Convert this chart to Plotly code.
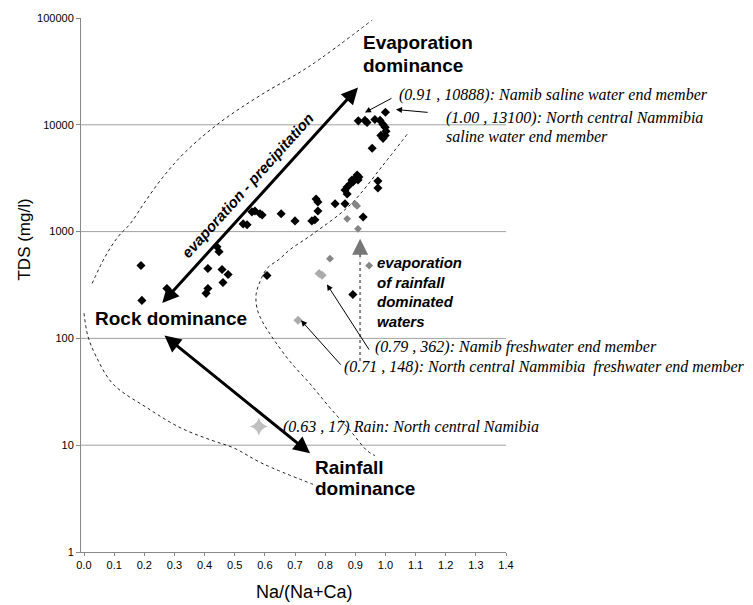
import math
import plotly.graph_objects as go

# ---------------- data ----------------
black_na = [0.91, 0.932, 0.939, 1.00, 0.965, 0.982, 0.992, 0.999, 1.002, 0.999, 0.992, 0.985,
            0.956, 0.906, 0.912, 0.899, 0.892, 0.883, 0.873, 0.866, 0.873, 0.889, 0.909, 0.975,
            0.975, 0.770, 0.776, 0.833, 0.866, 0.776, 0.756, 0.766, 0.926, 0.654, 0.700, 0.557,
            0.567, 0.584, 0.591, 0.528, 0.541, 0.441, 0.448, 0.189, 0.192, 0.275, 0.411, 0.458,
            0.478, 0.461, 0.411, 0.405, 0.607, 0.892]
black_tds = [10888, 11000, 10520, 13100, 11220, 11000, 10090, 9460, 8690, 7960, 7470, 7960,
             6030, 3380, 3240, 3100, 2910, 2790, 2610, 2450, 2250, 3040, 3040, 2970,
             2560, 2020, 1890, 1820, 1820, 1560, 1260, 1290, 1370, 1470, 1260, 1530,
             1560, 1470, 1430, 1180, 1160, 722, 649, 481, 227, 293, 451, 441,
             396, 334, 293, 264, 388, 258]

grey_na = [0.899, 0.906, 0.873, 0.909, 0.816, 0.946]
grey_tds = [1820, 1740, 1316, 1062, 558, 481]

fresh_na = [0.78, 0.79, 0.71]
fresh_tds = [405, 390, 148]

rain_na = [0.58]
rain_tds = [15]

# Gibbs envelope curves
upper_na = [0.027, 0.070, 0.113, 0.153, 0.202, 0.262, 0.335, 0.451, 0.584, 0.750, 0.956]
upper_tds = [327, 582, 895, 1182, 1893, 3240, 5530, 10520, 18790, 35700, 95700]

inner_na = [1.072, 0.992, 0.883, 0.760, 0.683, 0.650, 0.607, 0.584, 0.571, 0.574, 0.591,
            0.627, 0.683, 0.750, 0.816, 0.883, 0.939, 0.965]
inner_tds = [8140, 4190, 1780, 954, 677, 558, 451, 341, 258, 191, 145,
             100, 61, 37.5, 22.4, 13.7, 8.9, 8.0]

lower_na = [0.0, 0.013, 0.040, 0.096, 0.209, 0.319, 0.428, 0.494, 0.594, 0.760]
lower_tds = [172, 105, 68, 37.5, 22.4, 14.6, 11.0, 9.5, 6.7, 4.3]

x_ticks = [round(0.1 * i, 1) for i in range(15)]
y_ticks = [1, 10, 100, 1000, 10000, 100000]
grid_tds = [10, 100, 1000, 10000]

# ---------------- figure ----------------
SANS = "Liberation Sans, Arial, sans-serif"
SERIF = "Liberation Serif, Times New Roman, serif"

fig = go.Figure()

for cx, cy in [(upper_na, upper_tds), (inner_na, inner_tds), (lower_na, lower_tds)]:
    fig.add_trace(go.Scatter(x=cx, y=cy, mode="lines", line=dict(color="#222", width=1, dash="dot"),
                             line_shape="spline", hoverinfo="skip", showlegend=False))

# vertical dotted grey arrow shaft (evaporation of rainfall dominated waters)
fig.add_trace(go.Scatter(x=[0.916, 0.916], y=[61.4, 558], mode="lines",
                         line=dict(color="#888", width=2, dash="dot"), showlegend=False, hoverinfo="skip"))

fig.add_trace(go.Scatter(x=black_na, y=black_tds, mode="markers",
                         marker=dict(symbol="diamond", size=7, color="black"), showlegend=False))
fig.add_trace(go.Scatter(x=grey_na, y=grey_tds, mode="markers",
                         marker=dict(symbol="diamond", size=6, color="#858585"), showlegend=False))
fig.add_trace(go.Scatter(x=fresh_na, y=fresh_tds, mode="markers",
                         marker=dict(symbol="diamond", size=7, color="#ababab"), showlegend=False))
fig.add_trace(go.Scatter(x=rain_na, y=rain_tds, mode="markers",
                         marker=dict(symbol="star-diamond", size=13, color="#c0c0c0"), showlegend=False))

L = math.log10
shapes = [dict(type="line", xref="paper", x0=0, x1=1, yref="y", y0=v, y1=v,
               line=dict(color="#a0a0a0", width=1), layer="below") for v in grid_tds]

ann = []


def arrow(x, y, ax, ay, width, both=False, color="black", size=1.0, head=2):
    d = dict(x=x, y=L(y), ax=ax, ay=L(ay), xref="x", yref="y", axref="x", ayref="y",
             text="", showarrow=True, arrowhead=head, arrowwidth=width, arrowcolor=color,
             arrowsize=size)
    if both:
        d.update(arrowside="end+start", startarrowhead=head, startarrowsize=size)
    ann.append(d)


def label(x, y, text, size, family=SANS, angle=0, xanchor="left"):
    ann.append(dict(x=x, y=L(y), xref="x", yref="y", text=text, showarrow=False,
                    xanchor=xanchor, yanchor="middle", textangle=angle, align="left",
                    font=dict(family=family, size=size, color="black")))


# thick double arrows
arrow(0.909, 22300, 0.255, 208, 3, both=True, size=1.1)
arrow(0.750, 8.4, 0.262, 109, 3, both=True, size=1.1)
# grey arrow head
arrow(0.916, 857, 0.916, 558, 2, color="#777", size=1.6)
# thin pointer arrows
arrow(0.932, 13030, 1.025, 18000, 1, size=1.2)
arrow(1.035, 13900, 1.145, 13030, 1, size=1.2)
arrow(0.806, 320, 0.949, 76, 1, size=1.2)
arrow(0.720, 147.6, 0.856, 55, 1, size=1.2)

label(0.919, 10 ** 4.766, "<b>Evaporation</b>", 19)
label(0.919, 10 ** 4.553, "<b>dominance</b>", 19)
label(0.030, 10 ** 2.188, "<b>Rock dominance</b>", 19)
label(0.760, 10 ** 0.792, "<b>Rainfall</b>", 19)
label(0.760, 10 ** 0.596, "<b>dominance</b>", 19)
label(0.965, 10 ** 2.430, "<b><i>evaporation<br>of rainfall<br>dominated<br>waters</i></b>", 15)
label(0.541, 10 ** 3.436, "<b><i>evaporation - precipitation</i></b>", 15, angle=-48, xanchor="center")
label(1.038, 10 ** 4.283, "<i>(0.91 , 10888): Namib saline water end member</i>", 16, SERIF)
label(1.194, 10 ** 4.060, "<i>(1.00 , 13100): North central Nammibia</i>", 16, SERIF)
label(1.194, 10 ** 3.892, "<i>saline water end member</i>", 16, SERIF)
label(0.959, 10 ** 1.918, "<i>(0.79 , 362): Namib freshwater end member</i>", 16, SERIF)
label(0.856, 10 ** 1.732, "<i>(0.71 , 148): North central Nammibia  freshwater end member</i>", 16, SERIF)
label(0.654, 10 ** 1.173, "<i>(0.63 , 17) Rain: North central Namibia</i>", 16, SERIF)

# axis titles
ann.append(dict(x=0.527, y=-0.0745, xref="paper", yref="paper", text="Na/(Na+Ca)", showarrow=False,
                xanchor="center", yanchor="middle", font=dict(family=SANS, size=18, color="black")))
ann.append(dict(x=-0.132, y=0.585, xref="paper", yref="paper", text="TDS (mg/l)", showarrow=False,
                xanchor="center", yanchor="middle", textangle=-90,
                font=dict(family=SANS, size=17, color="black")))

fig.update_layout(
    width=753, height=605, margin=dict(l=81, r=247, t=15, b=53),
    paper_bgcolor="white", plot_bgcolor="white",
    shapes=shapes, annotations=ann, showlegend=False,
    xaxis=dict(range=[-0.01, 1.4], tickvals=x_ticks, ticktext=[f"{v:.1f}" for v in x_ticks],
               showgrid=False, zeroline=False, showline=True, linecolor="#888", linewidth=1,
               ticks="outside", ticklen=3, tickcolor="#888",
               tickfont=dict(family=SANS, size=11, color="black")),
    yaxis=dict(type="log", range=[0, 5], tickvals=y_ticks, ticktext=[str(v) for v in y_ticks],
               showgrid=False, zeroline=False, showline=True, linecolor="#888", linewidth=1,
               ticks="outside", ticklen=4, tickcolor="#888",
               tickfont=dict(family=SANS, size=11, color="black")),
)

fig.write_html("out.html")
